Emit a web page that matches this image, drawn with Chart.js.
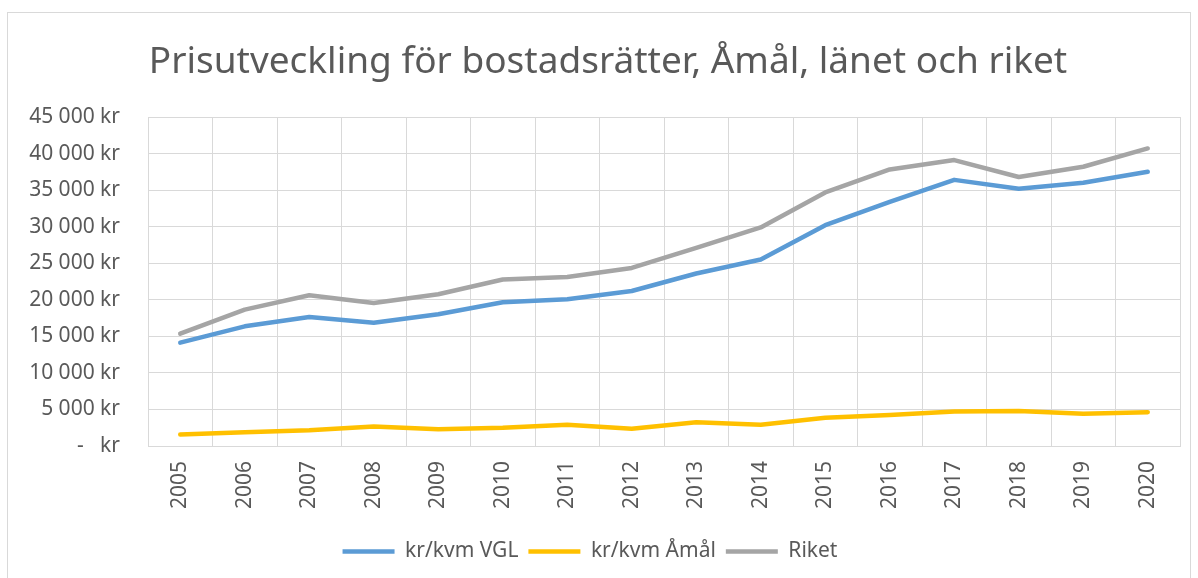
<!doctype html>
<html>
  <head>
    <title>Prisutveckling för bostadsrätter</title>
    <style>
      body { margin: 0; background: #fff; }
      #wrap { width: 1198px; height: 578px; }
    </style>
  </head>
  <body>
    <div id="wrap">
      <canvas id="myChart" width="1198" height="578"></canvas>
    </div>
  </body>
  <script src="https://cdn.jsdelivr.net/npm/chart.js"></script>
  <script>
    const years = ['2005', '2006', '2007', '2008', '2009', '2010', '2011', '2012',
                   '2013', '2014', '2015', '2016', '2017', '2018', '2019', '2020'];
    const vgl = [14130, 16370, 17650, 16870, 18010, 19660, 20070, 21200,
                 23600, 25500, 30200, 33400, 36400, 35200, 36000, 37500];
    const amal = [1580, 1890, 2170, 2670, 2300, 2490, 2900, 2350,
                  3260, 2900, 3850, 4250, 4720, 4800, 4400, 4630];
    const riket = [15370, 18650, 20620, 19560, 20750, 22770, 23120, 24350,
                   27100, 29900, 34680, 37830, 39110, 36800, 38200, 40700];
    const yTickLabels = ['-   kr', '5 000 kr', '10 000 kr', '15 000 kr', '20 000 kr',
                         '25 000 kr', '30 000 kr', '35 000 kr', '40 000 kr', '45 000 kr'];

    const textColor = '#595959';
    const gridColor = '#d9d9d9';
    const font = 'Noto Sans';

    // outer chart frame like the spreadsheet object border,
    // and nudge the title a bit right like in the original
    const frame = {
      id: 'frame',
      afterLayout(chart) {
        if (chart.titleBlock) {
          chart.titleBlock.left = 36;
          chart.titleBlock.right = 1180;
        }
      },
      beforeDraw(chart) {
        const c = chart.ctx;
        c.save();
        c.strokeStyle = gridColor;
        c.lineWidth = 1;
        c.strokeRect(7.5, 12.5, 1183, 620);
        c.restore();
      }
    };

    function line(label, data, color) {
      return {
        label: label,
        data: data,
        borderColor: color,
        backgroundColor: color,
        borderWidth: 4.5,
        borderCapStyle: 'round',
        borderJoinStyle: 'round',
        pointRadius: 0,
        tension: 0
      };
    }

    const ctx = document.getElementById('myChart');
    const chart = new Chart(ctx, {
      type: 'line',
      data: {
        labels: years,
        datasets: [
          line('kr/kvm VGL', vgl, '#5b9bd5'),
          line('kr/kvm Åmål', amal, '#ffc000'),
          line('Riket', riket, '#a5a5a5')
        ]
      },
      plugins: [frame],
      options: {
        responsive: false,
        animation: false,
        layout: { padding: { top: 0, left: 0, right: 18, bottom: 6 } },
        plugins: {
          title: {
            display: true,
            text: 'Prisutveckling för bostadsrätter, Åmål, länet och riket',
            color: textColor,
            font: { family: font, size: 37, weight: 'normal' },
            padding: { top: 40, bottom: 32.6 }
          },
          legend: {
            position: 'bottom',
            labels: {
              color: textColor,
              font: { family: font, size: 21 },
              usePointStyle: true,
              pointStyle: 'line',
              pointStyleWidth: 52,
              padding: 10
            }
          },
          tooltip: { enabled: false }
        },
        scales: {
          x: {
            offset: true,
            grid: { color: gridColor, offset: true, drawTicks: false },
            border: { color: gridColor },
            ticks: {
              color: textColor,
              font: { family: font, size: 21 },
              minRotation: 90,
              maxRotation: 90,
              padding: 15
            },
            afterFit(scale) { scale.height = 85; }
          },
          y: {
            min: 0,
            max: 45000,
            grid: { color: gridColor, drawTicks: false },
            border: { color: gridColor },
            ticks: {
              stepSize: 5000,
              color: textColor,
              font: { family: font, size: 21 },
              padding: 28,
              callback: (v, i) => yTickLabels[i]
            },
            afterFit(scale) { scale.width = 148; }
          }
        }
      }
    });
  </script>
</html>
